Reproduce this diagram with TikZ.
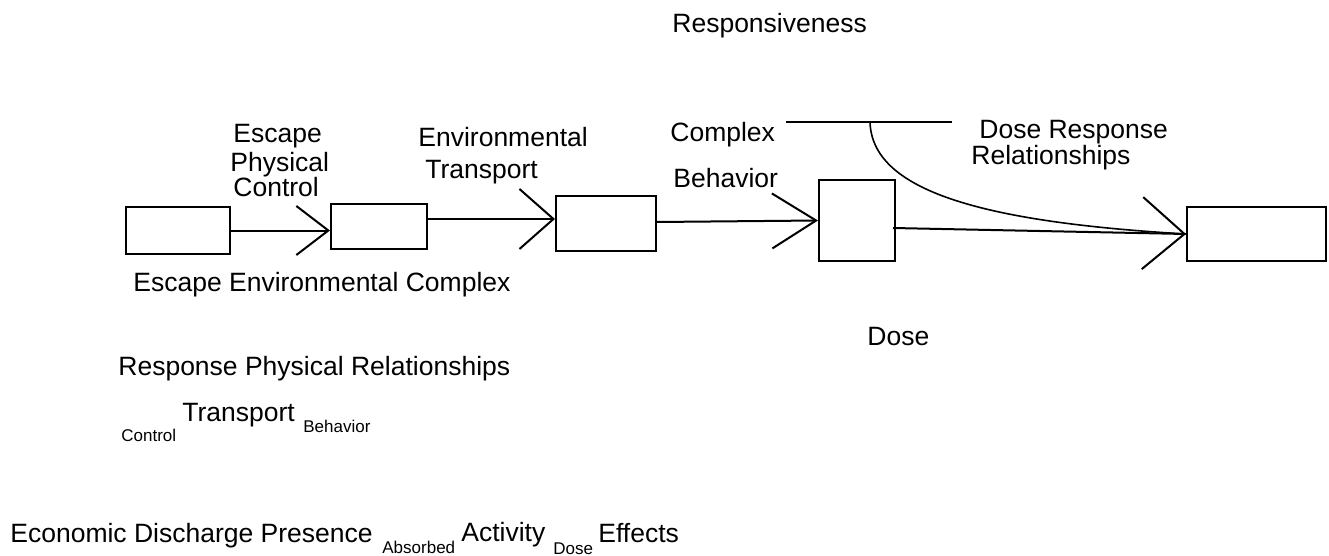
\documentclass[tikz,border=0pt]{standalone}
\usepackage{fontspec}
\setmainfont{Liberation Sans}
\usetikzlibrary{arrows.meta}

\newcommand{\bigtxt}{\fontsize{13.25}{15}\selectfont}
\newcommand{\smalltxt}{\fontsize{8.5}{10}\selectfont}

\begin{document}
\begin{tikzpicture}[
  x=0.5pt, y=-0.5pt,
  blk/.style 2 args={rectangle, draw=black, line width=1pt, inner sep=0pt,
              minimum width=#1, minimum height=#2},
  flow/.style 2 args={line width=1pt, -{Straight Barb[length=#1, width=#2]}},
  lbl/.style={anchor=base west, inner sep=0pt, font=\bigtxt},
  sub/.style={anchor=base west, inner sep=0pt, font=\smalltxt}
]
  \useasboundingbox (0,0) rectangle (1329,556);

  % boxes
  \node[blk={52pt}{23.5pt}] (src) at (178,230.5) {};
  \node[blk={48pt}{22.5pt}] (esc) at (379,226.5) {};
  \node[blk={50pt}{27.5pt}] (env) at (606,223.5) {};
  \node[blk={38pt}{40.5pt}] (dose) at (857,220.5) {};
  \node[blk={69.5pt}{27pt}] (eff) at (1256.5,234) {};

  % arrows between boxes
  \draw[flow={16pt}{24.5pt}] (src.east) -- (src.east -| esc.west);
  \draw[flow={17pt}{30pt}] ([yshift=3.75pt]esc.east) -- ([yshift=3.75pt]esc.east -| env.west);
  \draw[flow={22pt}{27.5pt}] ([yshift=0.75pt]env.east) -- (dose.west);
  \draw[flow={21pt}{36pt}] ([xshift=-1.5pt,yshift=-3.75pt]dose.east) -- (eff.west);

  % responsiveness bar and curve
  \coordinate (barL) at (786,122);
  \coordinate (barR) at (952,122);
  \coordinate (bend) at (870,122);
  \draw[line width=0.6pt] (barL) -- (barR);
  \draw[line width=0.8pt] (bend) .. controls +(2,68) and +(-207,-12) .. (eff.west);

  % labels
  \node[lbl] (responsiveness) at (672,33) {Responsiveness};
  \node[lbl] (escA) at (233,143) {Escape};
  \node[lbl] (escB) at (230,171) {Physical};
  \node[lbl] (escC) at (233,197) {Control};
  \node[lbl] (envA) at (418,147) {Environmental};
  \node[lbl] (envB) at (425,178) {Transport};
  \node[lbl] (cplx) at (670,142) {Complex};
  \node[lbl] (behav) at (673,188) {Behavior};
  \node[lbl] (drA) at (979,139) {Dose Response};
  \node[lbl] (drB) at (971,165) {Relationships};
  \node[lbl] (doseLbl) at (867,345) {Dose};

  % rows below
  \node[lbl] (row1) at (133,291) {Escape Environmental Complex};
  \node[lbl] (row2) at (118,375) {Response Physical Relationships};
  \node[lbl] (row3) at (182,421) {Transport};
  \node[sub] (row3a) at (121,441) {Control};
  \node[sub] (row3b) at (303,432) {Behavior};
  \node[lbl] (row4) at (10,542) {Economic Discharge Presence};
  \node[sub] (row4a) at (382,553) {Absorbed};
  \node[lbl] (row4b) at (461,541) {Activity};
  \node[sub] (row4c) at (553,554) {Dose};
  \node[lbl] (row4d) at (598,542) {Effects};
\end{tikzpicture}
\end{document}
